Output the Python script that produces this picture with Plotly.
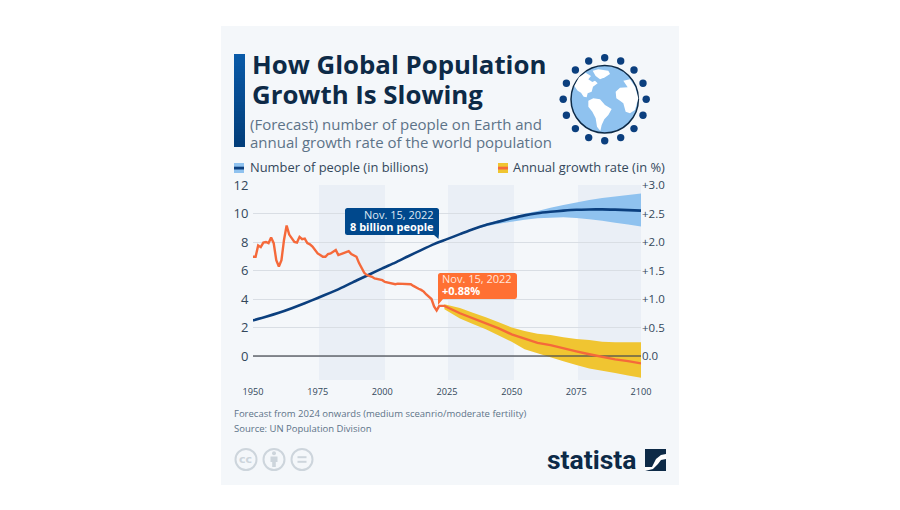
import plotly.graph_objects as go

# --- data -------------------------------------------------------------
hist_years = list(range(1950, 2024))
hist_rate = [1.74, 1.74, 1.94, 1.91, 1.99, 2.00, 1.98, 2.08, 1.98, 1.68,
             1.57, 1.68, 2.04, 2.29, 2.13, 2.06, 2.00, 1.99, 2.09, 2.05,
             2.06, 1.98, 1.96, 1.92, 1.86, 1.80, 1.77, 1.74, 1.74, 1.79,
             1.80, 1.83, 1.86, 1.77, 1.79, 1.80, 1.83, 1.84, 1.79, 1.77,
             1.74, 1.63, 1.53, 1.46, 1.42, 1.41, 1.39, 1.36, 1.35, 1.345,
             1.33, 1.30, 1.29, 1.27, 1.27, 1.26, 1.27, 1.27, 1.27, 1.27,
             1.26, 1.26, 1.23, 1.20, 1.18, 1.16, 1.13, 1.08, 1.04, 1.00,
             0.87, 0.80, 0.88, 0.88]

fc_years = [2024, 2030, 2035, 2040, 2045, 2050, 2055, 2060, 2065, 2070,
            2075, 2080, 2085, 2090, 2095, 2100]
fc_rate = [0.88, 0.75, 0.66, 0.57, 0.485, 0.38, 0.30, 0.23, 0.19, 0.13,
           0.08, 0.03, -0.02, -0.06, -0.09, -0.13]
fc_rate_hi = [0.91, 0.84, 0.76, 0.68, 0.59, 0.50, 0.44, 0.39, 0.37, 0.33,
              0.30, 0.28, 0.25, 0.24, 0.24, 0.24]
fc_rate_lo = [0.82, 0.66, 0.56, 0.47, 0.36, 0.25, 0.12, 0.05, -0.02, -0.09,
              -0.16, -0.22, -0.26, -0.30, -0.34, -0.38]

pop_years = [1950, 1955, 1960, 1965, 1970, 1975, 1980, 1985, 1990, 1995,
             2000, 2005, 2010, 2015, 2020, 2022, 2025, 2030, 2035, 2040,
             2045, 2050, 2055, 2060, 2065, 2070, 2075, 2080, 2085, 2090,
             2095, 2100]
pop = [2.5, 2.75, 3.03, 3.35, 3.70, 4.07, 4.45, 4.85, 5.30, 5.72,
       6.15, 6.55, 7.00, 7.43, 7.85, 8.00, 8.20, 8.55, 8.90, 9.20,
       9.43, 9.66, 9.87, 10.02, 10.12, 10.20, 10.26, 10.28, 10.29, 10.27,
       10.24, 10.20]

band_years = [2024, 2030, 2035, 2040, 2045, 2050, 2055, 2060, 2065, 2070,
              2075, 2080, 2085, 2090, 2095, 2100]
pop_hi = [8.14, 8.57, 8.95, 9.28, 9.53, 9.78, 9.98, 10.17, 10.40, 10.60,
          10.78, 10.95, 11.08, 11.20, 11.30, 11.40]
pop_lo = [8.14, 8.53, 8.85, 9.10, 9.28, 9.42, 9.56, 9.66, 9.71, 9.73,
          9.68, 9.60, 9.50, 9.35, 9.22, 9.08]

x_ticks = [1950, 1975, 2000, 2025, 2050, 2075, 2100]
left_ticks = [0, 2, 4, 6, 8, 10, 12]
right_ticks = [0, 0.5, 1.0, 1.5, 2.0, 2.5, 3.0]
right_labels = ["0.0", "+0.5", "+1.0", "+1.5", "+2.0", "+2.5", "+3.0"]

# --- palette ----------------------------------------------------------
NAVY = "#0b3f7e"
SKY = "#8fc2ef"
ORANGE = "#f5693a"
YELLOW = "#f0c531"
CARD = "#f4f7fa"
INK = "#0d2a47"
SLATE = "#5d7388"
PALE = "#cdd5dc"


def fx(v):
    return v / 900


def fy(v):
    return 1 - v / 510


def rect(x0, y0, x1, y1, color, layer="below"):
    return dict(type="rect", xref="paper", yref="paper", x0=fx(x0), x1=fx(x1),
                y0=fy(y0), y1=fy(y1), fillcolor=color, line_width=0, layer=layer)


def disc(cx, cy, r, fill, line=None, width=0):
    return dict(type="circle", xref="paper", yref="paper", x0=fx(cx - r), x1=fx(cx + r),
                y0=fy(cy - r), y1=fy(cy + r), fillcolor=fill,
                line=dict(color=line or fill, width=width), layer="above")


def poly(points, fill):
    d = "M" + " L".join(f"{fx(a):.5f},{fy(b):.5f}" for a, b in points) + " Z"
    return dict(type="path", xref="paper", yref="paper", path=d, fillcolor=fill, line_width=0, layer="above")


def rounded_callout(x0, y0, x1, y1, tail, fill, r=2.5):
    """Rounded box whose outline detours through a pointer given as two base points and a tip."""
    p = lambda a, b: f"{fx(a):.5f},{fy(b):.5f}"
    d = (f"M{p(x0 + r, y0)} L{p(x1 - r, y0)} Q{p(x1, y0)} {p(x1, y0 + r)} ")
    if tail["side"] == "right":
        d += (f"L{p(x1, y1 - 1)} L{p(*tail['tip'])} L{p(tail['base'], y1)} "
              f"L{p(x0 + r, y1)} Q{p(x0, y1)} {p(x0, y1 - r)} ")
    else:
        d += (f"L{p(x1, y1 - r)} Q{p(x1, y1)} {p(x1 - r, y1)} L{p(tail['base'], y1)} "
              f"L{p(*tail['tip'])} L{p(x0, y1 - 1)} ")
    d += f"L{p(x0, y0 + r)} Q{p(x0, y0)} {p(x0 + r, y0)} Z"
    return dict(type="path", xref="paper", yref="paper", path=d, fillcolor=fill, line_width=0, layer="above")


def label(x, y, text, size, color, anchor="left", family="Open Sans", bold=False):
    # annotation boxes carry a little inner padding; compensate so x is the glyph edge
    shift = {"left": -2.5, "right": 2, "center": 0}[anchor]
    return dict(xref="paper", yref="paper", x=fx(x + shift), y=fy(y), text=f"<b>{text}</b>" if bold else text,
                showarrow=False, xanchor=anchor, yanchor="middle",
                font=dict(family=family, size=size, color=color))


fig = go.Figure()

# Population: projection band, then the line
fig.add_trace(go.Scatter(x=band_years + band_years[::-1], y=pop_hi + pop_lo[::-1], fill="toself",
                         fillcolor=SKY, mode="none", hoverinfo="skip", showlegend=False))
fig.add_trace(go.Scatter(x=pop_years, y=pop, mode="lines", showlegend=False,
                         line=dict(color=NAVY, width=2.6, shape="spline", smoothing=0.6)))

# Growth rate: projection band, zero baseline showing through it, then the rate line
fig.add_trace(go.Scatter(x=fc_years + fc_years[::-1], y=fc_rate_hi + fc_rate_lo[::-1], yaxis="y2",
                         fill="toself", fillcolor=YELLOW, mode="none", hoverinfo="skip", showlegend=False))
fig.add_trace(go.Scatter(x=[x_ticks[0], x_ticks[-1]], y=[0, 0], yaxis="y2", mode="lines", hoverinfo="skip",
                         showlegend=False, line=dict(color="rgba(70,75,80,0.62)", width=2)))
fig.add_trace(go.Scatter(x=hist_years + fc_years, y=hist_rate + fc_rate, yaxis="y2", mode="lines",
                         showlegend=False, line=dict(color=ORANGE, width=2.4)))

shapes = [rect(221, 26, 679, 485, CARD)]

# Title accent bar, shaded towards the bottom
bar_steps = 31
for i in range(bar_steps):
    t = i / (bar_steps - 1)
    c = f"rgb({int(10 - 8 * t)},{int(90 - 28 * t)},{int(168 - 46 * t)})"
    shapes.append(rect(234, 54 + i * 3, 245, 54 + (i + 1) * 3, c))

# Quarter-century shading behind the plot
for a, b in [(319, 385), (448, 514), (578, 641)]:
    shapes.append(rect(a, 185, b, 380, "#eaeff6"))

# Legend swatches
shapes += [rect(234, 163, 244, 173, SKY), rect(234, 166.7, 244, 169.5, NAVY),
           rect(498, 163, 508, 173, YELLOW), rect(498, 166.7, 508, 169.5, ORANGE)]

# Globe emblem
GX, GY = 604.7, 99.3
shapes.append(disc(GX, GY, 33.7, SKY, INK, 1.5))


def globe_pts(pts):
    return [(555 + a / 3, 50 + b / 3) for a, b in pts]


land = [
    [(58, 108), (68, 122), (78, 128), (86, 140), (95, 142), (98, 130), (110, 125), (114, 110), (128, 100),
     (120, 92), (112, 96), (100, 88), (108, 78), (92, 68), (72, 82)],
    [(113, 62), (130, 58), (160, 62), (165, 72), (150, 82), (135, 88), (122, 78)],
    [(100, 152), (115, 145), (135, 148), (150, 165), (170, 177), (160, 195), (148, 208), (140, 225), (136, 243),
     (126, 230), (122, 205), (112, 185), (100, 170)],
    [(205, 92), (225, 88), (240, 110), (250, 145), (240, 180), (225, 190), (212, 185), (205, 160), (195, 152),
     (184, 145), (182, 125), (195, 113), (218, 112)],
]
for part in land:
    shapes.append(poly(globe_pts(part), "#ffffff"))

for gx, gy in [(0, -41.5), (16, -38.3), (29.3, -29.3), (38.3, -16), (41.5, 0), (38.3, 16), (29.3, 29.3), (16, 38.3),
               (0, 41.5), (-16, 38.3), (-29.3, 29.3), (-38.3, 16), (-41.5, 0), (-38.3, -16), (-29.3, -29.3),
               (-16, -38.3)]:
    shapes.append(disc(GX + gx, GY + gy, 3.7, NAVY))

# Callout boxes with their pointers
shapes += [
    rounded_callout(345, 208, 439, 235, dict(side="right", tip=(438.5, 239), base=434), "#00488c"),
    rounded_callout(438, 273, 517, 299, dict(side="left", tip=(438, 305), base=443), "#ff7033"),
]

# Licence icons
for cx in (246, 274, 302):
    shapes.append(disc(cx, 459.5, 10.5, "rgba(0,0,0,0)", PALE, 2))
shapes += [
    disc(274, 453.3, 2, PALE),
    poly([(270.5, 456.5), (277.5, 456.5), (277.5, 462), (275.8, 462), (275.8, 467), (272.2, 467), (272.2, 462),
          (270.5, 462)], PALE),
    rect(297.5, 456.2, 306.5, 458.2, PALE, layer="above"),
    rect(297.5, 460.8, 306.5, 462.8, PALE, layer="above"),
]

# Publisher mark
shapes += [
    poly([(645, 449), (666, 449), (666, 471), (645, 471)], INK),
    poly([(645, 467), (652, 467), (656, 459), (661, 455), (666, 454), (666, 459), (661, 460), (658, 464), (653, 469),
          (645, 471)], "#ffffff"),
]

notes = [
    label(252, 64, "How Global Population", 25.8, INK, bold=True),
    label(252, 94, "Growth Is Slowing", 25.8, INK, bold=True),
    label(250.5, 123.5, "(Forecast) number of people on Earth and", 15, SLATE),
    label(250.5, 142, "annual growth rate of the world population", 15, SLATE),
    label(250, 167.5, "Number of people (in billions)", 12.9, "#33475b"),
    label(513, 167.5, "Annual growth rate (in %)", 12.9, "#33475b"),
    label(434, 214.5, "Nov. 15, 2022", 11, "#dfe9f4", anchor="right"),
    label(434, 226.5, "8 billion people", 11, "#ffffff", anchor="right", bold=True),
    label(442.7, 278, "Nov. 15, 2022", 11, "#ffe6db"),
    label(442.7, 290.5, "+0.88%", 11, "#ffffff", bold=True),
    label(234, 413.5, "Forecast from 2024 onwards (medium sceanrio/moderate fertility)", 9.5, SLATE),
    label(234, 428, "Source: UN Population Division", 9.5, SLATE),
    label(246, 459.5, "cc", 11, PALE, anchor="center", family="DejaVu Sans", bold=True),
    label(591.5, 459.5, "statista", 26.5, INK, anchor="center", family="Roboto", bold=True),
]

fig.update_layout(
    width=900, height=510, autosize=False,
    margin=dict(l=0, r=0, t=0, b=0, pad=0, autoexpand=False),
    paper_bgcolor="#ffffff", plot_bgcolor="rgba(0,0,0,0)",
    font=dict(family="Open Sans", color="#33475b"),
    showlegend=False, shapes=shapes, annotations=notes,
    xaxis=dict(domain=[fx(253), fx(641)], range=[1950, 2100], tickvals=x_ticks,
               ticks="outside", ticklen=3, tickcolor="rgba(0,0,0,0)", showgrid=False, zeroline=False,
               showline=False, tickfont=dict(size=9.2, color="#33475b", family="Open Sans")),
    yaxis=dict(domain=[fy(380), fy(185)], range=[-1.684, 12], tickvals=left_ticks,
               ticks="outside", ticklen=1, tickcolor="rgba(0,0,0,0)", gridcolor="#d9dee4", gridwidth=1,
               zeroline=False, showline=False,
               tickfont=dict(size=13, color="#33475b", family="Open Sans")),
    yaxis2=dict(domain=[fy(380), fy(185)], range=[-0.421, 3], overlaying="y", side="right", anchor="x",
                tickvals=right_ticks, ticktext=right_labels, ticks="", showgrid=False, zeroline=False,
                showline=False, tickfont=dict(size=11.5, color="#33475b", family="Open Sans")),
)

fig.write_html("out.html")
